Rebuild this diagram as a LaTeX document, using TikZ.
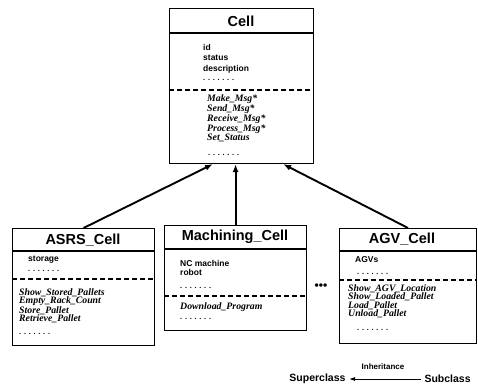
\documentclass[tikz,border=0pt]{standalone}
\usepackage{fontspec}
\setmainfont{Liberation Serif}
\setsansfont{Liberation Sans}
\usetikzlibrary{arrows.meta}

% row of dots used in the class boxes
\newcommand{\dotrow}{.\hspace{2.8pt}.\hspace{2.8pt}.\hspace{2.8pt}.\hspace{2.8pt}.\hspace{2.8pt}.\hspace{2.8pt}.}

\begin{document}
\begin{tikzpicture}[x=1pt,y=-1pt,
    box/.style={draw,line width=1.1pt,inner sep=0pt,anchor=north west},
    title/.style={font=\sffamily\bfseries\fontsize{14.5}{15}\selectfont},
    attr/.style={font=\sffamily\bfseries\fontsize{8.5}{10.5}\selectfont,align=left,anchor=north west,inner sep=0pt},
    oper/.style={font=\bfseries\itshape\fontsize{9.8}{8.5}\selectfont,align=left,anchor=north west,inner sep=0pt},
    dots/.style={font=\bfseries\fontsize{8}{8}\selectfont,anchor=base west,inner sep=0pt},
    sep/.style={line width=1.1pt},
    dsep/.style={line width=1.1pt,dash pattern=on 5pt off 3pt},
    inh/.style={line width=1.9pt,-{Latex[length=8pt,width=6pt]}}]

    \useasboundingbox (0,0) rectangle (478,387);

    % superclass
    \node[box,minimum width=144pt,minimum height=155pt] (cell) at (169,8) {};
    \draw[sep] (169,33) -- (313,33);
    \draw[dsep] (169,90) -- (313,90);
    \node[title] (celltitle) at (241,21) {Cell};
    \node[attr] (cellattr) at (203,44) {id\\status\\description};
    \node[dots] (celldots1) at (203,81) {\dotrow};
    \node[oper] (cellop) at (207,95) {Make\_Msg*\\Send\_Msg*\\Receive\_Msg*\\Process\_Msg*\\Set\_Status};
    \node[dots] (celldots2) at (208,156) {\dotrow};

    % subclasses
    \node[box,minimum width=142pt,minimum height=117pt] (asrs) at (12,228) {};
    \draw[sep] (12,251) -- (154,251);
    \draw[dsep] (12,279) -- (154,279);
    \node[title] (asrstitle) at (83,240) {ASRS\_Cell};
    \node[attr,anchor=west] (asrsattr) at (28,260) {storage};
    \node[dots] (asrsdots1) at (28,271) {\dotrow};
    \node[oper] (asrsop) at (19,288) {Show\_Stored\_Pallets\\Empty\_Rack\_Count\\Store\_Pallet\\Retrieve\_Pallet};
    \node[dots] (asrsdots2) at (19,334) {\dotrow};

    \node[box,minimum width=142pt,minimum height=105pt] (mach) at (164,225) {};
    \draw[sep] (164,249) -- (306,249);
    \draw[dsep] (164,296) -- (306,296);
    \node[title] (machtitle) at (235,237) {Machining\_Cell};
    \node[attr,font=\sffamily\bfseries\fontsize{8.5}{9.5}\selectfont] (machattr) at (180,260) {NC machine\\robot};
    \node[dots] (machdots1) at (180,288) {\dotrow};
    \node[oper,anchor=west] (machop) at (180,307) {Download\_Program};
    \node[dots] (machdots2) at (180,319) {\dotrow};

    \node[font=\sffamily\bfseries\fontsize{12}{12}\selectfont] (more) at (321,287) {\textbullet\textbullet\textbullet};

    \node[box,minimum width=137pt,minimum height=115pt] (agv) at (339,228) {};
    \draw[sep] (339,251) -- (476,251);
    \draw[dsep] (339,280) -- (476,280);
    \node[title] (agvtitle) at (402,239) {AGV\_Cell};
    \node[attr,anchor=west] (agvattr) at (355,260) {AGVs};
    \node[dots] (agvdots1) at (357,274) {\dotrow};
    \node[oper] (agvop) at (348,284) {Show\_AGV\_Location\\Show\_Loaded\_Pallet\\Load\_Pallet\\Unload\_Pallet};
    \node[dots] (agvdots2) at (357,330) {\dotrow};

    % inheritance arrows
    \coordinate (inL) at ([xshift=44pt]cell.south west);
    \coordinate (inR) at ([xshift=-31pt]cell.south east);
    \draw[inh] (asrs.north) -- (inL);
    \draw[inh] (mach.north) -- (mach.north |- cell.south);
    \draw[inh] (agv.north) -- (inR);

    % legend
    \node[font=\sffamily\bfseries\fontsize{10.5}{10.5}\selectfont,anchor=east] (super) at (349,379) {Superclass};
    \node[font=\sffamily\bfseries\fontsize{10.5}{10.5}\selectfont,anchor=west] (sub) at (421,379) {Subclass};
    \node[font=\sffamily\bfseries\fontsize{8}{8}\selectfont] (inhlabel) at (383,367) {Inheritance};
    \draw[line width=0.9pt,-{Latex[length=6pt,width=4pt]}] (sub.west) -- (super.east);
\end{tikzpicture}
\end{document}
